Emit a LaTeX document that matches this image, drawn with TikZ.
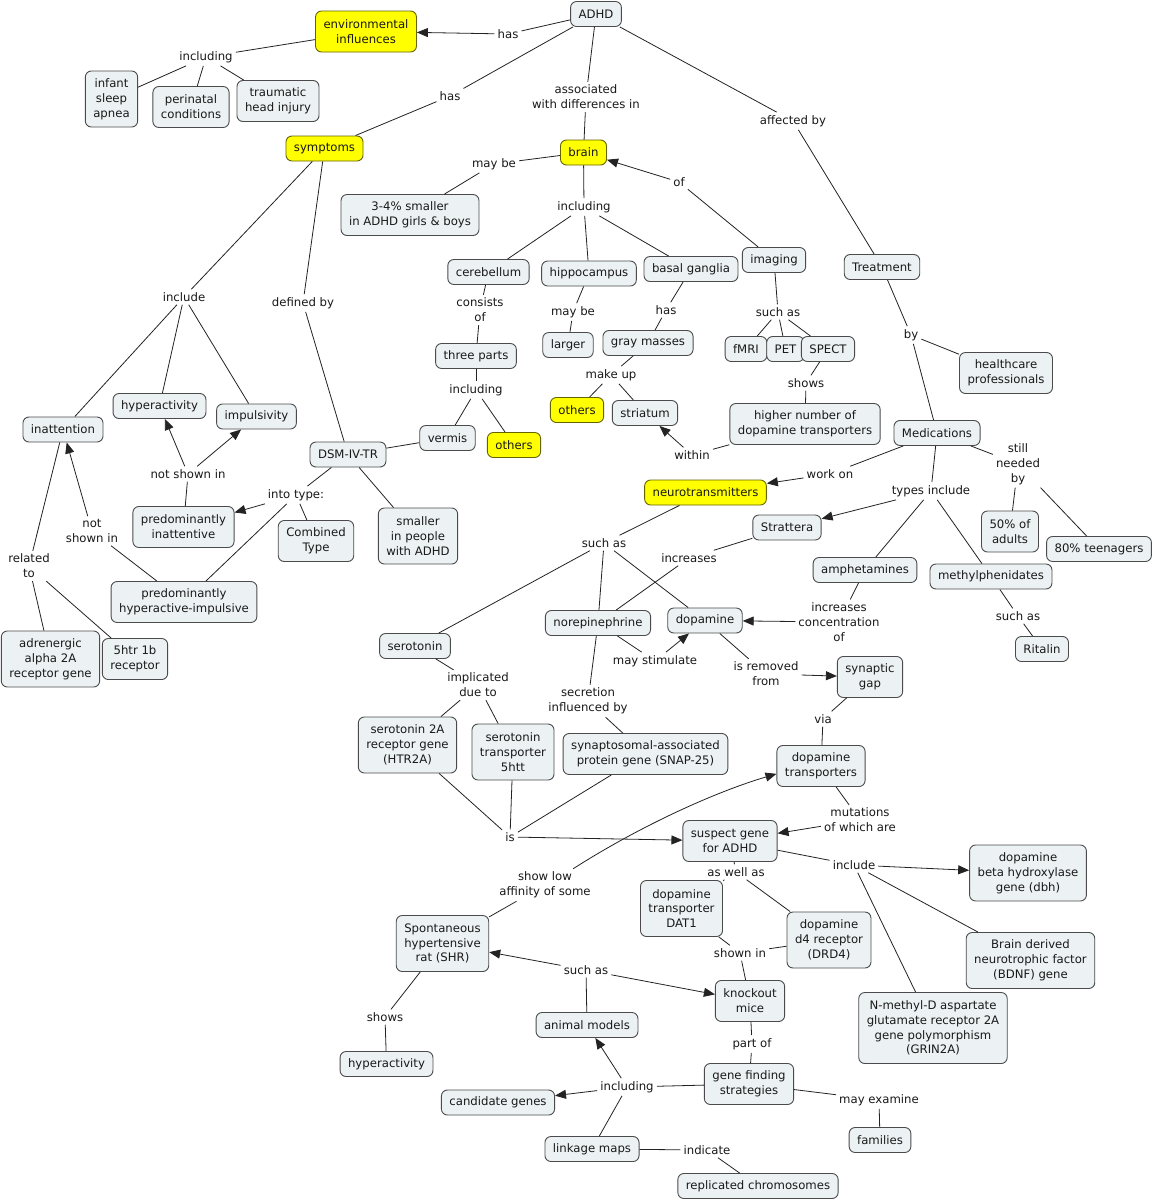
\documentclass[tikz,border=0pt]{standalone}
\usepackage{fontspec}
\setmainfont{DejaVu Sans}
\usetikzlibrary{arrows.meta}
\definecolor{boxfill}{RGB}{236,242,244}
\definecolor{boxline}{RGB}{75,75,75}
\definecolor{ylw}{RGB}{255,255,0}
\definecolor{ylwline}{RGB}{100,100,0}
\definecolor{linecol}{RGB}{35,35,35}
\definecolor{txt}{RGB}{25,25,25}
\newcommand\fs{\fontsize{11.7pt}{14.8pt}\selectfont}
\tikzset{
  cbox/.style={draw=boxline, fill=boxfill, rounded corners=6pt, inner xsep=8pt, inner ysep=4pt,
    minimum height=25pt, align=center, font=\fs, text=txt, line width=0.9pt},
  ybox/.style={cbox, fill=ylw, draw=ylwline},
  lbl/.style={inner sep=3pt, align=center, font=\fs, text=txt},
  ltwo/.style={minimum height=41pt},
  lthree/.style={minimum height=56pt},
  lfour/.style={minimum height=71pt},
  conn/.style={draw=linecol, line width=0.8pt},
  arr/.style={conn, -{Triangle[length=11pt,width=9pt]}},
}
\begin{document}
\begin{tikzpicture}[x=1pt,y=-1pt]
\useasboundingbox[fill=white] (0,0) rectangle (1155,1202);
% ---------- concepts ----------
\node[cbox] (adhd) at (596,14) {ADHD};
\node[ybox,ltwo] (env) at (366,31.5) {environmental\\influences};
\node[cbox,lthree] (isa) at (111.5,99) {infant\\sleep\\apnea};
\node[cbox,ltwo] (peri) at (191,107) {perinatal\\conditions};
\node[cbox,ltwo] (thi) at (278,101) {traumatic\\head injury};
\node[ybox] (sym) at (324.5,148.5) {symptoms};
\node[ybox] (brain) at (583.5,152.5) {brain};
\node[cbox,ltwo] (small34) at (410,215) {3-4\% smaller\\in ADHD girls \& boys};
\node[cbox] (cereb) at (488.5,272) {cerebellum};
\node[cbox] (hippo) at (589,273.5) {hippocampus};
\node[cbox] (basal) at (691,269) {basal ganglia};
\node[cbox] (imaging) at (774,260) {imaging};
\node[cbox] (treat) at (882,267) {Treatment};
\node[cbox] (three) at (476,356) {three parts};
\node[cbox] (larger) at (568,345) {larger};
\node[cbox] (gray) at (648,343) {gray masses};
\node[cbox] (fmri) at (746,349) {fMRI};
\node[cbox] (pet) at (785.5,349) {PET};
\node[cbox] (spect) at (828,349) {SPECT};
\node[cbox,ltwo] (health) at (1006,373) {healthcare\\professionals};
\node[cbox,ltwo] (higher) at (805,424) {higher number of\\dopamine transporters};
\node[cbox] (vermis) at (447.5,438) {vermis};
\node[ybox] (others1) at (514,445) {others};
\node[ybox] (others2) at (577,410) {others};
\node[cbox] (stri) at (645,413) {striatum};
\node[cbox] (meds) at (937,433) {Medications};
\node[ybox] (neuro) at (705.5,492.5) {neurotransmitters};
\node[cbox] (strat) at (787,527.5) {Strattera};
\node[cbox] (amph) at (865,570) {amphetamines};
\node[cbox] (methyl) at (991,576.5) {methylphenidates};
\node[cbox,ltwo] (adults) at (1010,531.5) {50\% of\\adults};
\node[cbox] (teen) at (1099,549) {80\% teenagers};
\node[cbox] (ritalin) at (1042,649) {Ritalin};
\node[cbox] (sero) at (415,646) {serotonin};
\node[cbox] (norep) at (598,623) {norepinephrine};
\node[cbox] (dopa) at (705,620.5) {dopamine};
\node[cbox,ltwo] (syn) at (870,677) {synaptic\\gap};
\node[cbox,ltwo] (dtr) at (821,766) {dopamine\\transporters};
\node[cbox,lthree] (htr) at (407.5,745) {serotonin 2A\\receptor gene\\(HTR2A)};
\node[cbox,lthree] (htt) at (513,752) {serotonin\\transporter\\5htt};
\node[cbox,ltwo] (snap) at (645.5,754) {synaptosomal-associated\\protein gene (SNAP-25)};
\node[cbox,ltwo] (suspect) at (730,841) {suspect gene\\for ADHD};
\node[cbox,lthree] (dbh) at (1028,873) {dopamine\\beta hydroxylase\\gene (dbh)};
\node[cbox,lthree] (bdnf) at (1030.5,960.5) {Brain derived\\neurotrophic factor\\(BDNF) gene};
\node[cbox,lfour] (grin) at (933,1028) {N-methyl-D aspartate\\glutamate receptor 2A\\gene polymorphism\\(GRIN2A)};
\node[cbox,lthree] (dat1) at (681.5,908.5) {dopamine\\transporter\\DAT1};
\node[cbox,lthree] (drd4) at (829,940) {dopamine\\d4 receptor\\(DRD4)};
\node[cbox,ltwo] (ko) at (750,1001) {knockout\\mice};
\node[cbox,lthree] (shr) at (442.5,943.5) {Spontaneous\\hypertensive\\rat (SHR)};
\node[cbox] (animal) at (587,1025) {animal models};
\node[cbox] (hyper2) at (386.5,1064) {hyperactivity};
\node[cbox,ltwo] (gfs) at (749,1084) {gene finding\\strategies};
\node[cbox] (cand) at (498,1102.5) {candidate genes};
\node[cbox] (link) at (592,1149) {linkage maps};
\node[cbox] (repl) at (758,1186) {replicated chromosomes};
\node[cbox] (fam) at (880,1140) {families};
\node[cbox] (hyper1) at (159.5,406) {hyperactivity};
\node[cbox] (impuls) at (256.5,416.5) {impulsivity};
\node[cbox] (inatt) at (63,429.5) {inattention};
\node[cbox] (dsm) at (348,454.5) {DSM-IV-TR};
\node[cbox,ltwo] (pinatt) at (183.5,527) {predominantly\\inattentive};
\node[cbox,ltwo] (comb) at (316,541) {Combined\\Type};
\node[cbox,lthree] (smaller) at (418,536) {smaller\\in people\\with ADHD};
\node[cbox,ltwo] (phyper) at (184,602) {predominantly\\hyperactive-impulsive};
\node[cbox,lthree] (adren) at (50.5,659) {adrenergic\\alpha 2A\\receptor gene};
\node[cbox,ltwo] (htrb) at (135,659) {5htr 1b\\receptor};
% ---------- linking phrases ----------
\node[lbl] (lhasA) at (508,34) {has};
\node[lbl] (lincA) at (206,57) {including};
\node[lbl] (lhasB) at (450,96) {has};
\node[lbl] (lassoc) at (586,97) {associated\\with differences in};
\node[lbl] (laff) at (793,121) {affected by};
\node[lbl] (lmayA) at (494,164) {may be};
\node[lbl] (lincB) at (584,207) {including};
\node[lbl] (lof) at (679,182) {of};
\node[lbl] (lcons) at (480,310) {consists\\of};
\node[lbl] (lmayB) at (573,312) {may be};
\node[lbl] (lhasC) at (666,310) {has};
\node[lbl] (lsuchA) at (778,312) {such as};
\node[lbl] (lby) at (911,335) {by};
\node[lbl] (lshowsA) at (806,383) {shows};
\node[lbl] (lincC) at (476,390) {including};
\node[lbl] (lmake) at (611,375) {make up};
\node[lbl] (lwithin) at (692,455) {within};
\node[lbl] (lwork) at (830,474) {work on};
\node[lbl] (ltypes) at (931,491) {types include};
\node[lbl] (lstill) at (1018,464) {still\\needed\\by};
\node[lbl] (lsuchB) at (1018,616) {such as};
\node[lbl] (lincrB) at (839,622) {increases\\concentration\\of};
\node[lbl] (lsuchC) at (604,543) {such as};
\node[lbl] (lincrA) at (689,558) {increases};
\node[lbl] (lstim) at (655,661) {may stimulate};
\node[lbl] (lrem) at (766,674) {is removed\\from};
\node[lbl] (lvia) at (823,719) {via};
\node[lbl] (limpl) at (478,685) {implicated\\due to};
\node[lbl] (lsecr) at (588,701) {secretion\\influenced by};
\node[lbl] (lis) at (510,837) {is};
\node[lbl] (lmut) at (860,820) {mutations\\of which are};
\node[lbl] (linclude) at (854,865) {include};
\node[lbl] (lwell) at (736,872) {as well as};
\node[lbl] (lshown) at (740,953) {shown in};
\node[lbl] (lsuchD) at (586,970) {such as};
\node[lbl] (lsla) at (545,885) {show low\\affinity of some};
\node[lbl] (lshowsB) at (385,1017) {shows};
\node[lbl] (lpart) at (752,1044) {part of};
\node[lbl] (lincD) at (627,1087) {including};
\node[lbl] (lind) at (707,1150) {indicate};
\node[lbl] (lexam) at (879,1100) {may examine};
\node[lbl] (lincE) at (184,297) {include};
\node[lbl] (ldef) at (303,303) {defined by};
\node[lbl] (lnotA) at (188,474) {not shown in};
\node[lbl] (linto) at (296,495) {into type:};
\node[lbl] (lnotB) at (92,531) {not\\shown in};
\node[lbl] (lrel) at (29,566) {related\\to};
% ---------- connectors ----------
\draw[conn] (adhd) -- (lhasA);
\draw[arr] (lhasA) -- (env);
\draw[conn] (env) -- (lincA);
\draw[conn] (lincA) -- (isa);
\draw[conn] (lincA) -- (peri);
\draw[conn] (lincA) -- (thi);
\draw[conn] (adhd) -- (lhasB);
\draw[conn] (lhasB) -- (sym);
\draw[conn] (adhd) -- (lassoc);
\draw[conn] (lassoc) -- (brain);
\draw[conn] (adhd) -- (laff);
\draw[conn] (laff) -- (treat);
\draw[conn] (brain) -- (lmayA);
\draw[conn] (lmayA) -- (small34);
\draw[conn] (brain) -- (lincB);
\draw[conn] (lincB) -- (cereb);
\draw[conn] (lincB) -- (hippo);
\draw[conn] (lincB) -- (basal);
\draw[conn] (imaging) -- (lof);
\draw[arr] (lof) -- (brain);
\draw[conn] (cereb) -- (lcons);
\draw[conn] (lcons) -- (three);
\draw[conn] (hippo) -- (lmayB);
\draw[conn] (lmayB) -- (larger);
\draw[conn] (basal) -- (lhasC);
\draw[conn] (lhasC) -- (gray);
\draw[conn] (imaging) -- (lsuchA);
\draw[conn] (lsuchA) -- (fmri);
\draw[conn] (lsuchA) -- (pet);
\draw[conn] (lsuchA) -- (spect);
\draw[conn] (treat) -- (lby);
\draw[conn] (lby) -- (health);
\draw[conn] (lby) -- (meds);
\draw[conn] (spect) -- (lshowsA);
\draw[conn] (lshowsA) -- (higher);
\draw[conn] (three) -- (lincC);
\draw[conn] (lincC) -- (vermis);
\draw[conn] (lincC) -- (others1);
\draw[conn] (gray) -- (lmake);
\draw[conn] (lmake) -- (others2);
\draw[conn] (lmake) -- (stri);
\draw[conn] (higher) -- (lwithin);
\draw[arr] (lwithin) -- (stri);
\draw[conn] (meds) -- (lwork);
\draw[arr] (lwork) -- (neuro);
\draw[conn] (meds) -- (ltypes);
\draw[arr] (ltypes) -- (strat);
\draw[conn] (ltypes) -- (amph);
\draw[conn] (ltypes) -- (methyl);
\draw[conn] (meds) -- (lstill);
\draw[conn] (lstill) -- (adults);
\draw[conn] (lstill) -- (teen);
\draw[conn] (methyl) -- (lsuchB);
\draw[conn] (lsuchB) -- (ritalin);
\draw[conn] (amph) -- (lincrB);
\draw[arr] (lincrB) -- (dopa);
\draw[conn] (neuro) -- (lsuchC);
\draw[conn] (lsuchC) -- (sero);
\draw[conn] (lsuchC) -- (norep);
\draw[conn] (lsuchC) -- (dopa);
\draw[conn] (strat) -- (lincrA);
\draw[conn] (lincrA) -- (norep);
\draw[conn] (norep) -- (lstim);
\draw[arr] (lstim) -- (dopa);
\draw[conn] (dopa) -- (lrem);
\draw[arr] (lrem) -- (syn);
\draw[conn] (syn) -- (lvia);
\draw[conn] (lvia) -- (dtr);
\draw[conn] (sero) -- (limpl);
\draw[conn] (limpl) -- (htr);
\draw[conn] (limpl) -- (htt);
\draw[conn] (norep) -- (lsecr);
\draw[conn] (lsecr) -- (snap);
\draw[conn] (htr) -- (lis);
\draw[conn] (htt) -- (lis);
\draw[conn] (snap) -- (lis);
\draw[arr] (lis) -- (suspect);
\draw[conn] (dtr) -- (lmut);
\draw[arr] (lmut) -- (suspect);
\draw[conn] (suspect) -- (linclude);
\draw[arr] (linclude) -- (dbh);
\draw[conn] (linclude) -- (bdnf);
\draw[conn] (linclude) -- (grin);
\draw[conn] (suspect) -- (lwell);
\draw[conn] (lwell) -- (dat1);
\draw[conn] (lwell) -- (drd4);
\draw[conn] (dat1) -- (lshown);
\draw[conn] (drd4) -- (lshown);
\draw[conn] (lshown) -- (ko);
\draw[conn] (animal) -- (lsuchD);
\draw[arr] (lsuchD) -- (shr);
\draw[arr] (lsuchD) -- (ko);
\draw[conn] (shr) -- (lsla);
\draw[arr] (lsla.30) .. controls (640,826) and (715,792) .. (dtr.190);
\draw[conn] (shr) -- (lshowsB);
\draw[conn] (lshowsB) -- (hyper2);
\draw[conn] (ko) -- (lpart);
\draw[conn] (lpart) -- (gfs);
\draw[conn] (gfs) -- (lincD);
\draw[arr] (lincD) -- (animal);
\draw[arr] (lincD) -- (cand);
\draw[conn] (lincD) -- (link);
\draw[conn] (link) -- (lind);
\draw[conn] (lind) -- (repl);
\draw[conn] (gfs) -- (lexam);
\draw[conn] (lexam) -- (fam);
\draw[conn] (sym) -- (lincE);
\draw[conn] (lincE) -- (inatt);
\draw[conn] (lincE) -- (hyper1);
\draw[conn] (lincE) -- (impuls);
\draw[conn] (sym) -- (ldef);
\draw[conn] (ldef) -- (dsm);
\draw[conn] (pinatt) -- (lnotA);
\draw[arr] (lnotA) -- (hyper1);
\draw[arr] (lnotA) -- (impuls);
\draw[conn] (dsm) -- (linto);
\draw[arr] (linto) -- (pinatt);
\draw[conn] (linto) -- (comb);
\draw[conn] (linto) -- (phyper);
\draw[conn] (dsm) -- (smaller);
\draw[conn] (dsm) -- (vermis);
\draw[conn] (phyper) -- (lnotB);
\draw[arr] (lnotB) -- (inatt);
\draw[conn] (inatt) -- (lrel);
\draw[conn] (lrel) -- (adren);
\draw[conn] (lrel) -- (htrb);
\end{tikzpicture}
\end{document}
